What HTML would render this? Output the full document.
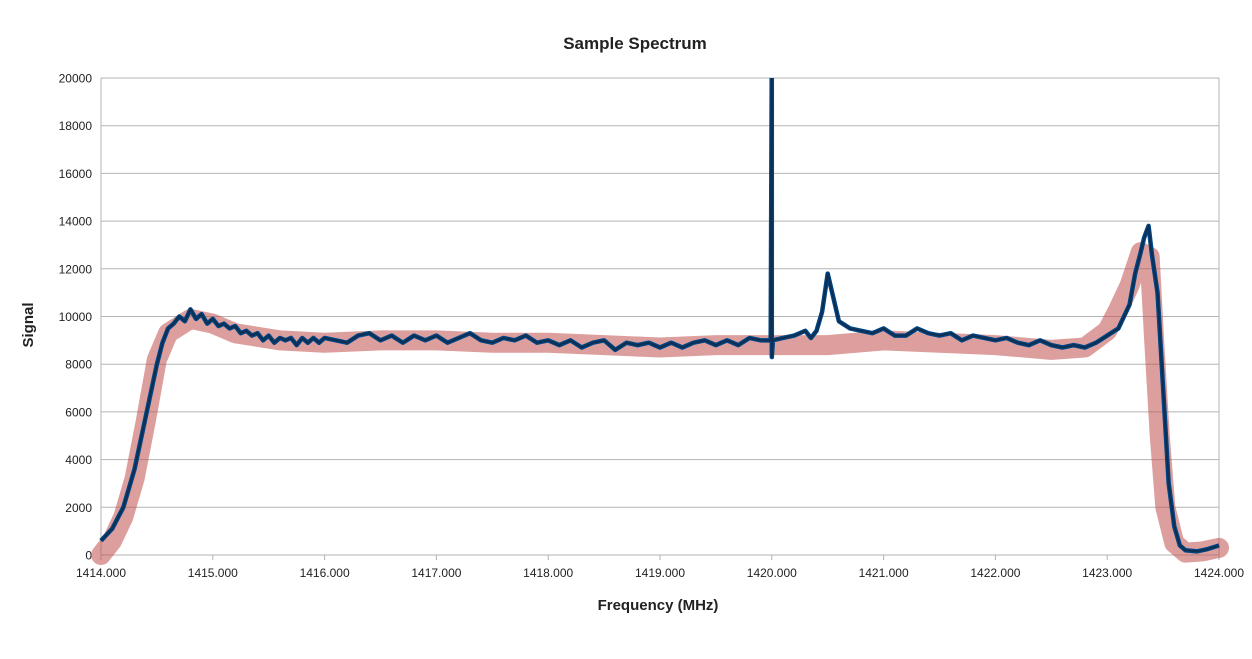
<!DOCTYPE html>
<html><head><meta charset="utf-8"><style>
body{margin:0;background:#fff;}
svg text{font-family:"Liberation Sans",sans-serif;}
</style></head><body>
<svg id="chart" width="1252" height="654" viewBox="0 0 1252 654" xmlns="http://www.w3.org/2000/svg">
<defs><clipPath id="plotclip"><rect x="80" y="78" width="1160" height="490"/></clipPath></defs>
<rect width="1252" height="654" fill="#fff"/>
<text x="635" y="49" text-anchor="middle" font-size="17" font-weight="bold" fill="#222">Sample Spectrum</text>
<text x="658" y="610" text-anchor="middle" font-size="15" font-weight="bold" fill="#222">Frequency (MHz)</text>
<text transform="translate(33,325) rotate(-90)" text-anchor="middle" font-size="15" font-weight="bold" fill="#222">Signal</text>
<g id="grid"></g><g id="axes"></g>
<g id="series" clip-path="url(#plotclip)"></g>
</svg>
<script>
const xTicks=[1414,1415,1416,1417,1418,1419,1420,1421,1422,1423,1424];
const yTicks=[0,2000,4000,6000,8000,10000,12000,14000,16000,18000,20000];
const fitFreq=[1414.0,1414.1,1414.2,1414.3,1414.4,1414.5,1414.6,1414.8,1415.0,1415.2,1415.6,1416,1416.5,1417,1417.5,1418,1418.5,1419,1419.5,1420,1420.5,1421,1421.5,1422,1422.5,1422.8,1423,1423.1,1423.2,1423.3,1423.38,1423.42,1423.47,1423.52,1423.6,1423.7,1423.85,1424];
const fitVal=[0,600,1600,3200,5600,8200,9300,9900,9700,9300,9000,8900,9000,9000,8900,8900,8800,8700,8800,8800,8800,9000,8900,8800,8600,8700,9400,10300,11300,12700,12500,9000,5000,2000,500,100,150,300];
const sigFreq=[1414.0,1414.1,1414.2,1414.3,1414.4,1414.5,1414.55,1414.6,1414.65,1414.7,1414.75,1414.8,1414.85,1414.9,1414.95,1415.0,1415.05,1415.1,1415.15,1415.2,1415.25,1415.3,1415.35,1415.4,1415.45,1415.5,1415.55,1415.6,1415.65,1415.7,1415.75,1415.8,1415.85,1415.9,1415.95,1416.0,1416.1,1416.2,1416.3,1416.4,1416.5,1416.6,1416.7,1416.8,1416.9,1417.0,1417.1,1417.2,1417.3,1417.4,1417.5,1417.6,1417.7,1417.8,1417.9,1418.0,1418.1,1418.2,1418.3,1418.4,1418.5,1418.6,1418.7,1418.8,1418.9,1419.0,1419.1,1419.2,1419.3,1419.4,1419.5,1419.6,1419.7,1419.8,1419.9,1419.99,1420.0,1420.0,1420.01,1420.1,1420.2,1420.3,1420.35,1420.4,1420.45,1420.5,1420.55,1420.6,1420.7,1420.8,1420.9,1421.0,1421.1,1421.2,1421.3,1421.4,1421.5,1421.6,1421.7,1421.8,1421.9,1422.0,1422.1,1422.2,1422.3,1422.4,1422.5,1422.6,1422.7,1422.8,1422.9,1423.0,1423.1,1423.2,1423.25,1423.3,1423.33,1423.37,1423.4,1423.45,1423.5,1423.55,1423.6,1423.65,1423.7,1423.8,1423.9,1424.0];
const sigVal=[600,1100,2000,3600,5800,8000,8900,9500,9700,10000,9800,10300,9900,10100,9700,9900,9600,9700,9500,9600,9300,9400,9200,9300,9000,9200,8900,9100,9000,9100,8800,9100,8900,9100,8900,9100,9000,8900,9200,9300,9000,9200,8900,9200,9000,9200,8900,9100,9300,9000,8900,9100,9000,9200,8900,9000,8800,9000,8700,8900,9000,8600,8900,8800,8900,8700,8900,8700,8900,9000,8800,9000,8800,9100,9000,9000,21000,8300,9000,9100,9200,9400,9100,9400,10200,11800,10800,9800,9500,9400,9300,9500,9200,9200,9500,9300,9200,9300,9000,9200,9100,9000,9100,8900,8800,9000,8800,8700,8800,8700,8900,9200,9500,10500,11800,12700,13300,13800,12600,11000,7000,3000,1200,400,200,150,250,400,550];
const X0=101,X1=1219,Y0=555,Y1=78;
function xs(f){return X0+(f-1414)/(1424-1414)*(X1-X0);}
function ys(v){return Y0-v/20000*(Y0-Y1);}
const NS='http://www.w3.org/2000/svg';
function mk(tag,parent){const e=document.createElementNS(NS,tag);parent.appendChild(e);return e;}
const grid=document.getElementById('grid'),axes=document.getElementById('axes'),series=document.getElementById('series');
yTicks.forEach(v=>{
 const l=mk('line',grid);
 
 
 l.setAttribute('x1',X0);l.setAttribute('x2',X1);l.setAttribute('y1',ys(v));l.setAttribute('y2',ys(v));
 l.setAttribute('stroke','#b3b3b3');l.setAttribute('stroke-width','1');
 const t=mk('text',axes);
 
 
 t.setAttribute('x',92);t.setAttribute('y',ys(v)+4.5);t.setAttribute('text-anchor','end');t.setAttribute('font-size','12');t.setAttribute('fill','#222');
 t.textContent=v;
});
xTicks.forEach(f=>{
 const l=mk('line',axes);
 
 
 l.setAttribute('x1',xs(f));l.setAttribute('x2',xs(f));l.setAttribute('y1',Y0);l.setAttribute('y2',Y0+5);
 l.setAttribute('stroke','#b3b3b3');
 const t=mk('text',axes);
 
 
 t.setAttribute('x',xs(f));t.setAttribute('y',577);t.setAttribute('text-anchor','middle');t.setAttribute('font-size','12');t.setAttribute('fill','#222');
 t.textContent=f.toFixed(3);
});
[X0,X1].forEach(x=>{
 const l=mk('line',axes);
 
 
 l.setAttribute('x1',x);l.setAttribute('x2',x);l.setAttribute('y1',Y1);l.setAttribute('y2',Y0);l.setAttribute('stroke','#b3b3b3');
});
const fit=mk('polyline',series);


fit.setAttribute('points',fitFreq.map((f,i)=>xs(f)+','+ys(fitVal[i])).join(' '));
fit.setAttribute('fill','none');fit.setAttribute('stroke','#c0504d');fit.setAttribute('stroke-opacity','0.55');fit.setAttribute('stroke-width','20');fit.setAttribute('stroke-linejoin','round');fit.setAttribute('stroke-linecap','round');
const sig=mk('polyline',series);


sig.setAttribute('points',sigFreq.map((f,i)=>xs(f)+','+ys(sigVal[i])).join(' '));
sig.setAttribute('fill','none');sig.setAttribute('stroke','#004586');sig.setAttribute('stroke-width','4.5');sig.setAttribute('stroke-linejoin','round');
const sig2=mk('polyline',series);


sig2.setAttribute('points',sigFreq.map((f,i)=>xs(f)+','+ys(sigVal[i])).join(' '));
sig2.setAttribute('fill','none');sig2.setAttribute('stroke','#0e2f50');sig2.setAttribute('stroke-width','2');sig2.setAttribute('stroke-linejoin','round');
const bl=mk('line',axes);


bl.setAttribute('x1',X0);bl.setAttribute('x2',X1);bl.setAttribute('y1',Y0);bl.setAttribute('y2',Y0);bl.setAttribute('stroke','#b3b3b3');
</script>
</body></html>
